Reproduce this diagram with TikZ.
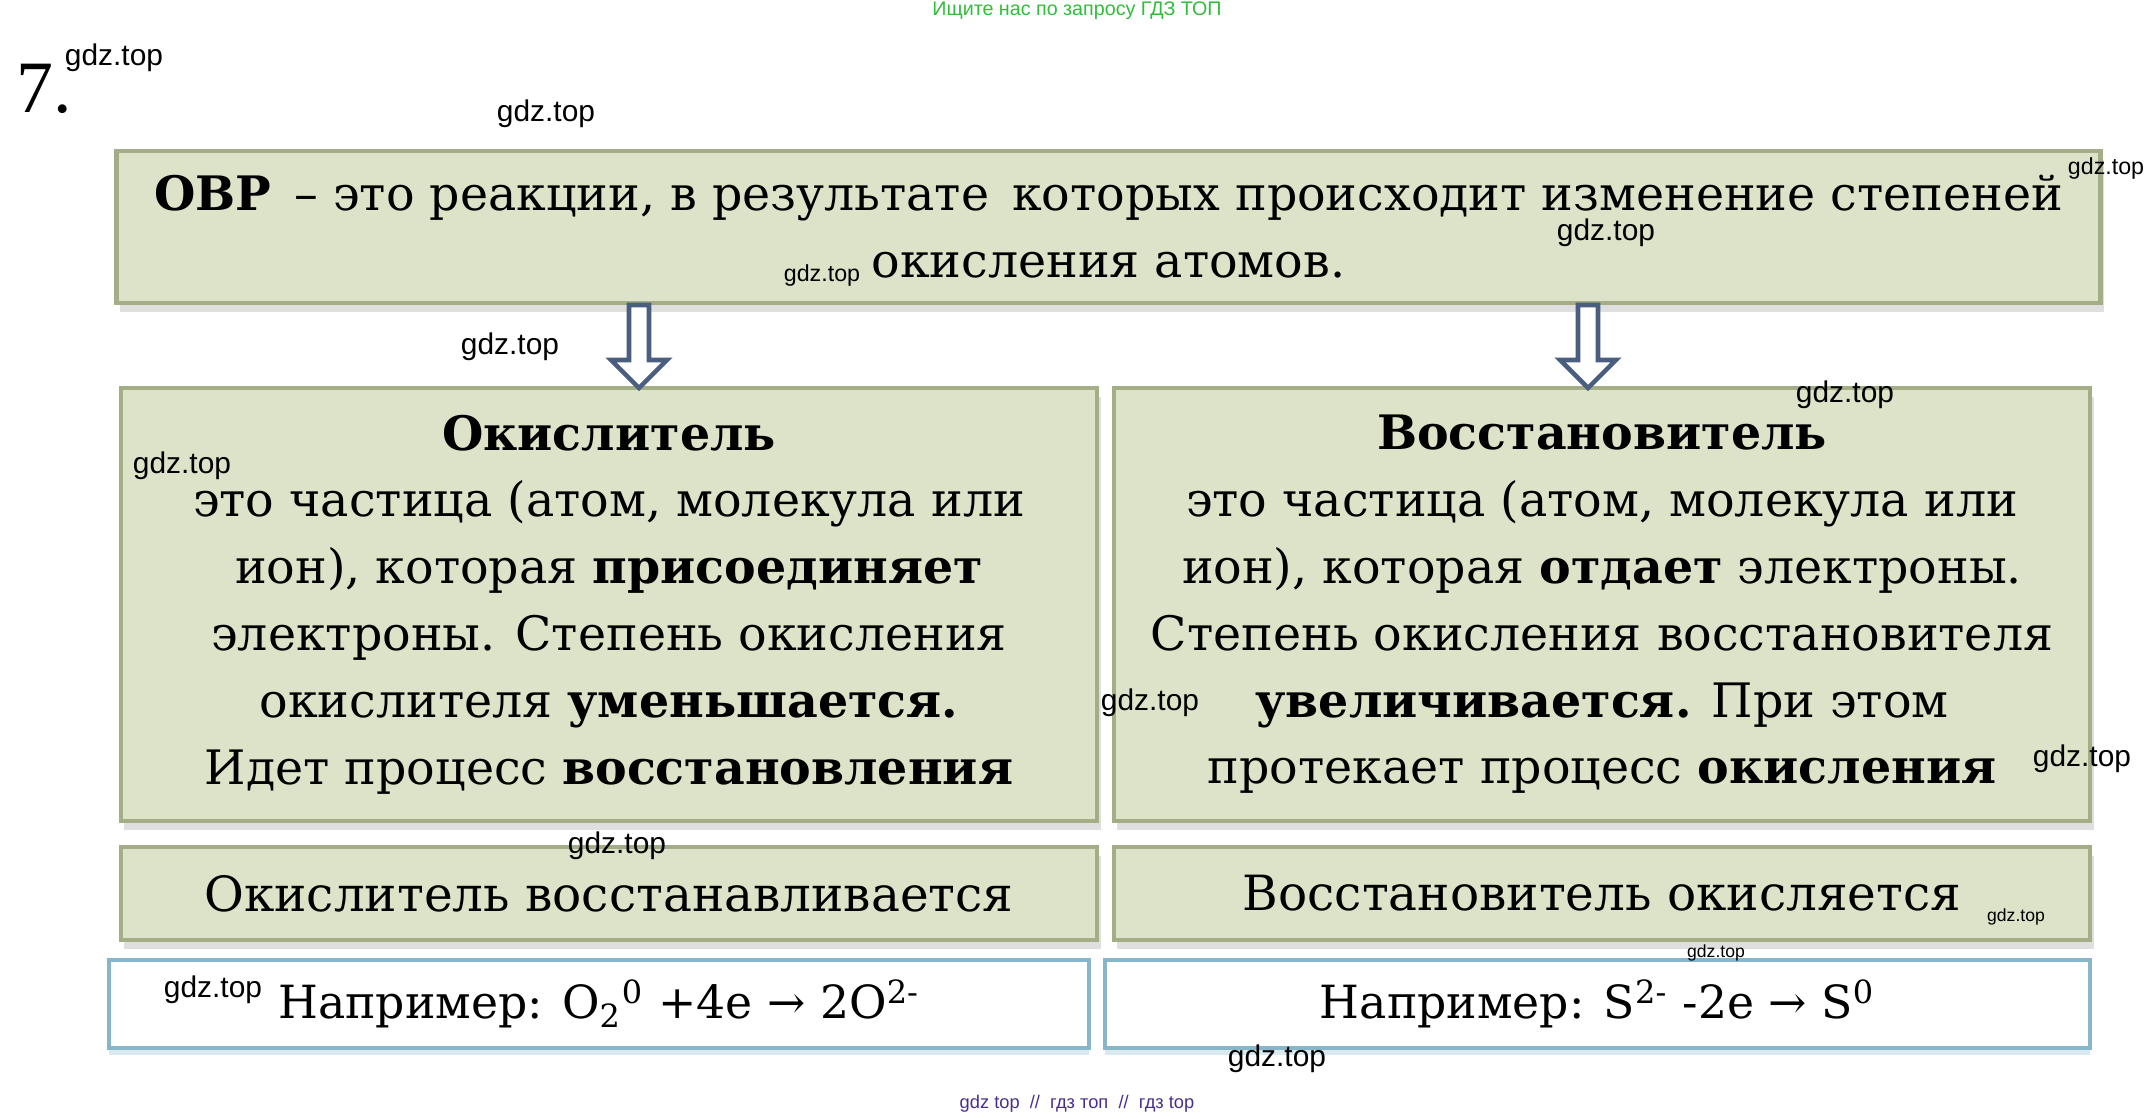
\documentclass[tikz,border=0pt]{standalone}
\usepackage{fontspec}
\setmainfont{DejaVu Serif}
\newfontfamily\wm{Liberation Sans}
\newfontfamily\ttl{Liberation Serif}
\usetikzlibrary{shadows}
\definecolor{boxfill}{HTML}{DCE3C8}
\definecolor{boxline}{HTML}{A3AD86}
\definecolor{exline}{HTML}{86B6C8}
\definecolor{arrline}{HTML}{4A5E80}
\definecolor{topgreen}{HTML}{2EBE3A}
\definecolor{botviolet}{HTML}{4B2D8F}
\tikzset{
  card/.style={draw=boxline,line width=1.2pt,fill=boxfill,inner sep=0pt,align=center,
    font=\fontsize{13.5}{19}\selectfont,
    drop shadow={shadow xshift=1pt,shadow yshift=-2.5pt,opacity=.25}},
  exbox/.style={draw=exline,line width=1.2pt,fill=white,inner sep=0pt,
    font=\fontsize{13}{19}\selectfont,
    drop shadow={shadow xshift=0pt,shadow yshift=-2pt,opacity=.3,fill=exline}},
  hollow/.style={draw=arrline,line width=1.3pt,fill=white,line join=miter},
}
\begin{document}
\begin{tikzpicture}[x=0.01cm,y=-0.01cm]
\useasboundingbox (0,0) rectangle (2156,1119);
% header and footer
\node[font=\wm\fontsize{5.6}{6}\selectfont,text=topgreen] (head) at (1077,11) {Ищите нас по запросу ГДЗ ТОП};
\node[font=\wm\fontsize{5.2}{6}\selectfont,text=botviolet] (foot) at (1077,1104) {gdz top \ // \ гдз топ \ // \ гдз top};
\node[font=\ttl\fontsize{21}{21}\selectfont] (num) at (44,89) {7.};
% main boxes
\node[card,minimum width=19.83cm,minimum height=1.52cm] (ovr) at (1108.5,227)
  {\textbf{ОВР} \,– это реакции, в результате \,которых происходит изменение степеней\\окисления атомов.};
\node[card,minimum width=9.76cm,minimum height=4.33cm] (oxi) at (609,604.5)
  {\textbf{Окислитель}\\это частица (атом, молекула или\\ион), которая \textbf{присоединяет}\\
   электроны. Степень окисления\\окислителя \textbf{уменьшается.}\\Идет процесс \textbf{восстановления}};
\node[card,minimum width=9.76cm,minimum height=4.33cm] (red) at (1602,604.5)
  {\textbf{Восстановитель}\\это частица (атом, молекула или\\ион), которая \textbf{отдает} электроны.\\
   Степень окисления восстановителя\\\textbf{увеличивается.} При этом\\протекает процесс \textbf{окисления}};
\node[card,minimum width=9.76cm,minimum height=0.93cm,font=\fontsize{13.8}{19}\selectfont] (oxiR) at (609,893.5) {Окислитель восстанавливается};
\node[card,minimum width=9.76cm,minimum height=0.93cm,font=\fontsize{13.8}{19}\selectfont] (redR) at (1602,893.5) {Восстановитель окисляется};
\node[exbox,minimum width=9.80cm,minimum height=0.88cm] (oxiE) at (599,1004)
  {Например: O\textsubscript{2}\textsuperscript{0} +4e → 2O\textsuperscript{2-}};
\node[exbox,minimum width=9.85cm,minimum height=0.88cm] (redE) at (1597.5,1004)
  {Например: S\textsuperscript{2-} -2e → S\textsuperscript{0}};
% hollow arrows
\coordinate (aL) at (639,305);
\coordinate (aR) at (1588,305);
\foreach \a in {aL,aR}
  \draw[hollow] (\a) ++(-10,0) -- ++(0,55) -- ++(-18,0) -- ++(28,28) -- ++(28,-28) -- ++(-18,0) -- ++(0,-55) -- cycle;
% watermarks
\foreach \x/\y/\s [count=\i] in {114/58/8.5,546/114/8.5,2106/169/6.6,1606/233/8.5,822/276/6.6,
  510/347/8.5,1845/395/8.5,182/466/8.5,1150/703/8.5,2082/759/8.5,617/846/8.5,
  2016/917/5,1716/953/5,213/990/8.5,1277/1059/8.5}
  \node[font=\wm\fontsize{\s}{\s}\selectfont,inner sep=0pt] (w\i) at (\x,\y) {gdz.top};
\end{tikzpicture}
\end{document}
